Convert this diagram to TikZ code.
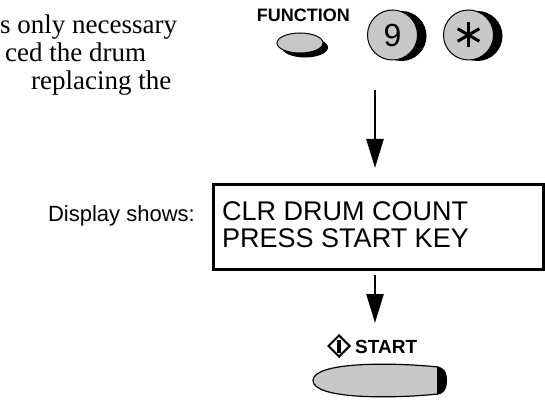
\documentclass[tikz,border=0pt]{standalone}
\usepackage{fontspec}
\setmainfont{Liberation Serif}
\setsansfont{Liberation Sans}
\usetikzlibrary{arrows.meta,shapes.geometric}
\definecolor{btngray}{RGB}{200,200,200}
\begin{document}
\begin{tikzpicture}[x=1pt,y=-1pt,
  arr/.style={line width=2.5pt,-{Triangle[width=17pt,length=29pt]}},
  keyface/.style={draw=black,line width=1pt,fill=btngray},
  para/.style={font=\fontsize{27}{28}\selectfont,anchor=base west,inner sep=0pt},
  lcd/.style={font=\sffamily\fontsize{27}{27}\selectfont,anchor=base west,inner sep=0pt},
  boldlbl/.style={font=\sffamily\bfseries\fontsize{#1}{#1}\selectfont,inner sep=0pt},
  keynum/.style={circle,keyface,minimum size=50pt,inner sep=0pt,font=\sffamily\fontsize{32}{32}\selectfont}]
\useasboundingbox (0,0) rectangle (545,403);
% paragraph fragment
\node[para] (t1) at (0,34) {s only necessary};
\node[para] (t2) at (5,62) {ced the drum};
\node[para] (t3) at (31,90) {replacing the};
% FUNCTION key
\node[boldlbl=18,anchor=base east] (fl) at (350,22) {FUNCTION};
\fill[black] (305,47.5) ellipse[x radius=23, y radius=10];
\node[ellipse,keyface,minimum width=46pt,minimum height=20pt,inner sep=0pt] (fn) at (300,43) {};
% 9 key
\fill[black] (401.5,36) circle[radius=25];
\node[keynum] (k9) at (392.5,35) {9};
% * key
\fill[black] (477.5,36) circle[radius=25];
\node[keynum] (kst) at (468.5,35) {};
\foreach \a in {90,30,150}
  \draw[line width=3pt] (kst.center) ++(\a:12.5) -- ++(\a+180:25);
% arrow 1
\coordinate (a1s) at (375,90);
\coordinate (a1e) at (375,168);
\draw[arr] (a1s) -- (a1e);
% display
\node[font=\sffamily\fontsize{22}{22}\selectfont,anchor=base east,inner sep=0pt] (ds) at (195,221) {Display shows:};
\node[draw,line width=3pt,minimum width=330pt,minimum height=84pt,inner sep=0pt] (disp) at (378,227) {};
\node[lcd] (l1) at (222,220) {CLR DRUM COUNT};
\node[lcd] (l2) at (222,247) {PRESS START KEY};
% arrow 2
\coordinate (a2s) at (375,275);
\coordinate (a2e) at (375,323);
\draw[arr] (a2s) -- (a2e);
% START label
\node[diamond,draw,line width=2pt,minimum size=22pt,inner sep=0pt] (sym) at (339,346) {};
\draw[line width=3.5pt] (sym.center) ++(0,-6.5) -- ++(0,13);
\node[boldlbl=19,anchor=base west] (st) at (355,353) {START};
% START button
\draw[keyface,line width=1.2pt] (438,367) .. controls (390,362) and (313,362) .. (313,380.5)
   .. controls (313,399) and (390,399) .. (438,394) -- cycle;
\fill[black] (437,366.5) .. controls (443,367) and (447,371) .. (447,380.5)
   .. controls (447,390) and (443,394.5) .. (437,394.5) -- cycle;
\end{tikzpicture}
\end{document}
